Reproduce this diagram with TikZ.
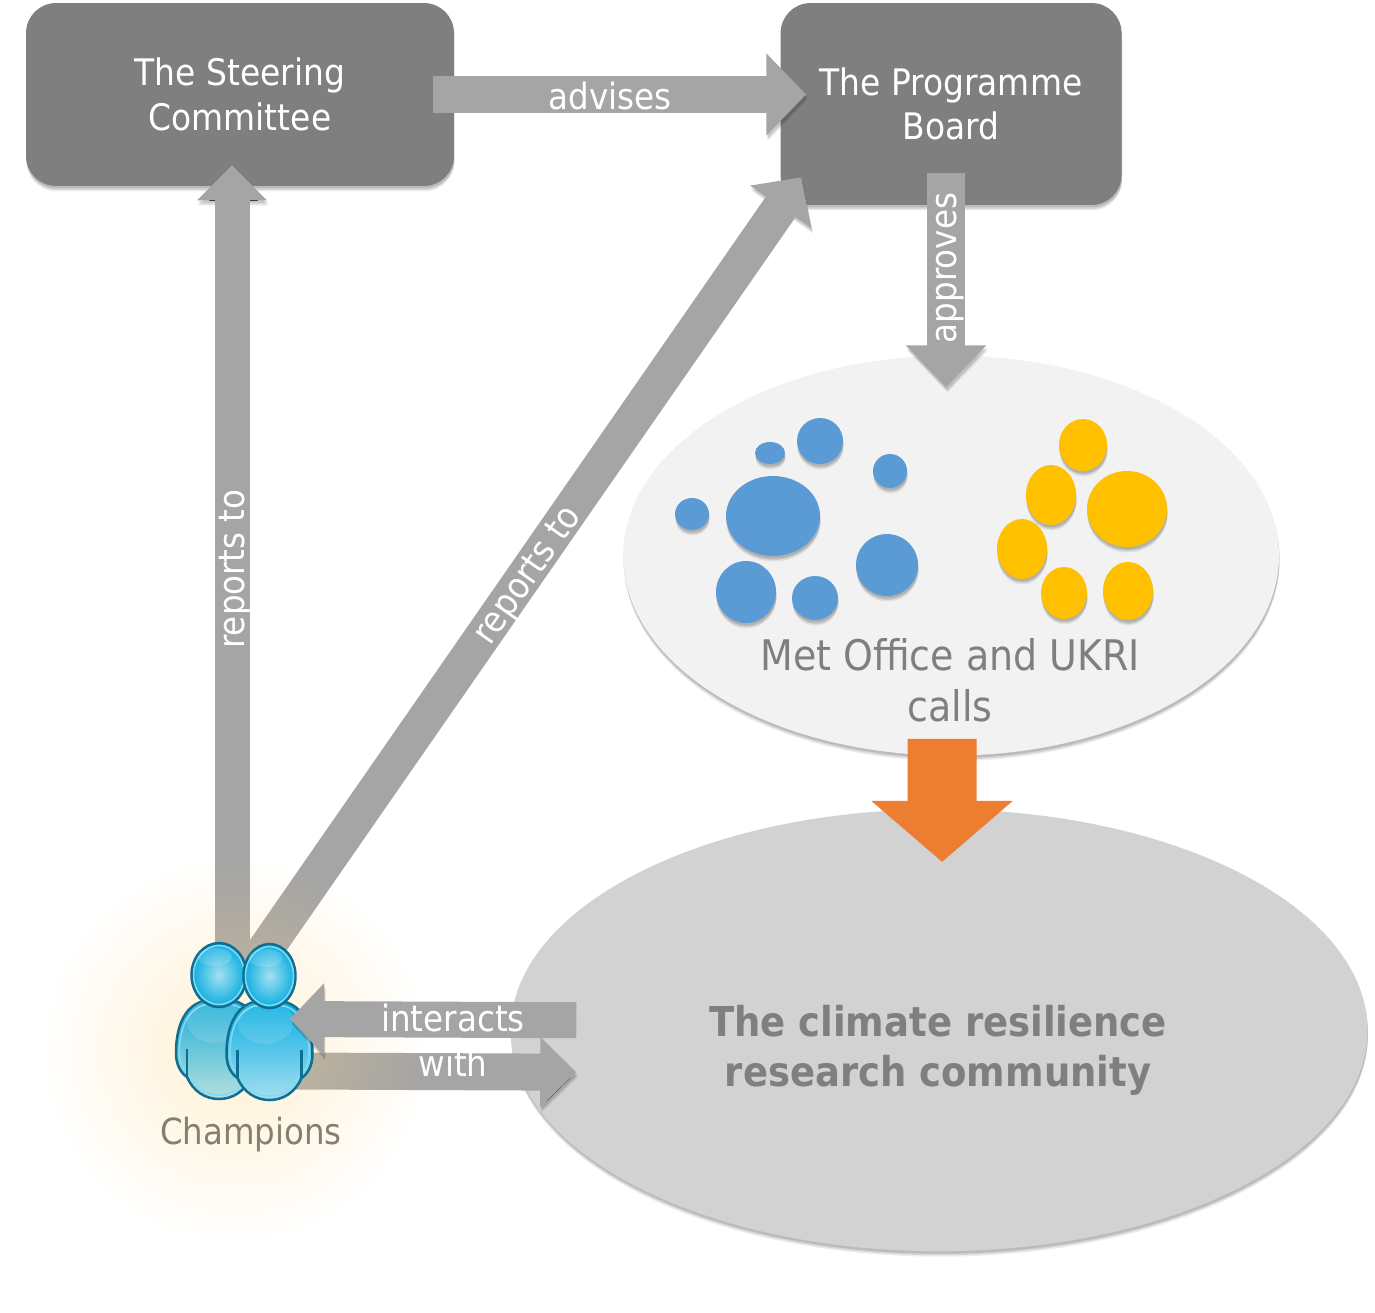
\documentclass[tikz,border=0pt]{standalone}
\usepackage{fontspec}
\usepackage{xcolor}
\setmainfont{DejaVu Sans Condensed}
\usetikzlibrary{shapes.geometric, arrows.meta, positioning, shadows, fadings}
\definecolor{boxgray}{HTML}{7F7F7F}
\definecolor{arrowgray}{HTML}{A5A5A5}
\definecolor{callsgray}{HTML}{F2F2F2}
\definecolor{commgray}{HTML}{D2D2D2}
\definecolor{textgray}{HTML}{7F7F7F}
\definecolor{champtext}{HTML}{857F6F}
\definecolor{blobblue}{HTML}{5B9BD5}
\definecolor{blobyellow}{HTML}{FFC000}
\definecolor{callorange}{HTML}{ED7D31}
\definecolor{glowcol}{HTML}{FFD98A}
\definecolor{persondark}{HTML}{0E6F92}
\definecolor{persontop}{HTML}{08AEE2}
\definecolor{personlow}{HTML}{A6DFF0}
\definecolor{persontopb}{HTML}{1FAFD8}
\definecolor{personlowb}{HTML}{B4E0DE}
\definecolor{personring}{HTML}{86D8F0}
\tikzfading[name=glowfade, inner color=transparent!62, outer color=transparent!100]
\tikzstyle{softshadow} = [drop shadow={shadow xshift=0.01cm, shadow yshift=-0.11cm, opacity=0.07, fill=black},
                          drop shadow={shadow xshift=0.01cm, shadow yshift=-0.08cm, opacity=0.1, fill=black},
                          drop shadow={shadow xshift=0.01cm, shadow yshift=-0.05cm, opacity=0.12, fill=black}]
\tikzstyle{govbox}    = [rectangle, rounded corners=0.6cm, fill=boxgray,
                         draw=none, text=white, align=center, softshadow,
                         font=\fontsize{20.8}{25.2}\selectfont]
\tikzstyle{arrowtext} = [text=white, font=\fontsize{20.6}{25}\selectfont, inner sep=0pt]
\tikzset{
  blockarrow/.style n args={3}{-{Triangle[length=#2cm, width=#3cm]}, line width=#1cm, draw=arrowgray,
    preaction={draw=black, draw opacity=0.1, transform canvas={xshift=0.03cm, yshift=-0.1cm}},
    preaction={draw=black, draw opacity=0.12, transform canvas={xshift=0.02cm, yshift=-0.06cm}}},
}
\def\bodypath{(-16,26) .. controls (-36,32) and (-43,54) .. (-43,78)
    .. controls (-43,90) and (-38,98) .. (-32,102)
    .. controls (-26,116) and (-14,124) .. (0,124)
    .. controls (14,124) and (26,116) .. (32,102)
    .. controls (38,98) and (43,90) .. (43,78)
    .. controls (43,54) and (36,32) .. (16,26) -- cycle}

\begin{document}
\begin{tikzpicture}[x=0.02cm, y=-0.02cm]
    \useasboundingbox (0,0) rectangle (1375,1312);

    \node (steering) [govbox, minimum width=8.56cm, minimum height=3.66cm] at (240,94.5) {The Steering\\Committee};
    \node (board) [govbox, minimum width=6.82cm, minimum height=4.04cm, right=6.52cm of steering, yshift=-0.19cm] {The Programme\\Board};
    \node (calls) [ellipse, fill=callsgray, softshadow, minimum width=13.12cm, minimum height=8cm, below=3cm of board] {};
    \node (community) [ellipse, fill=commgray, softshadow, minimum width=17.14cm, minimum height=8.84cm, below=1.06cm of calls, xshift=-0.24cm] {};

    % blobs inside the calls ellipse
    \foreach \bx/\by/\brx/\bry in {773/516/47/40, 820/441/23/23, 770/453/15/11, 890/471/17/17,
                                   692/514/17/16, 746/592/30/31, 815/598/23/22, 887/565/31/31}
        \fill[blobblue, softshadow] (\bx,\by) ellipse (\brx cm*0.02 and \bry cm*0.02);
    \foreach \bx/\by/\brx/\bry in {1083/445/24/26, 1051/495/25/30, 1127/509/40/38, 1022/549/25/30,
                                   1064/593/23/26, 1128/591/25/29}
        \fill[blobyellow, softshadow] (\bx,\by) ellipse (\brx cm*0.02 and \bry cm*0.02);

    \coordinate (icon) at (232,976);
    \coordinate (icondiag) at (258,960);
    \coordinate (iconin) at (290,1019);
    \coordinate (iconout) at (295,1071);

    \draw[blockarrow={0.76}{0.8}{1.6}] ([shift={(-21,0)}]steering.east) -- ([shift={(26,0)}]board.west |- steering.east);
    \draw[blockarrow={0.7}{0.7}{1.36}] (icon) -- ([shift={(0,-21)}]icon |- steering.south);
    \draw[blockarrow={0.72}{0.72}{1.45}] (icondiag) -- ([shift={(21,-28)}]board.south west);
    \draw[blockarrow={0.76}{0.84}{1.56}] ([shift={(-5,-32)}]board.south) -- ([shift={(-5,32)}]board.south |- calls.north);
    \draw[blockarrow={0.74}{0.72}{1.36}] (iconout) -- ([shift={(66,42)}]community.west);
    \draw[-{Triangle[length=1.22cm, width=2.76cm]}, line width=1.38cm, draw=callorange]
        ([shift={(-9,-17)}]calls.south) -- ([shift={(3,53)}]community.north);

    % glow behind the two people, lying over the arrows
    \fill[glowcol, path fading=glowfade] (235,1050) circle (195);

    % the two people
    \foreach \px/\py/\prx/\ptop/\plow in {219/975/27.5/persontopb/personlowb, 269.5/976/26/persontop/personlow}{
        \begin{scope}[shift={(\px,\py)}]
            \path[draw=persondark, line width=0.05cm, top color=\ptop, bottom color=\plow] \bodypath;
            \draw[personring, line width=0.03cm, shift={(0,6)}, scale=0.92] \bodypath;
            \fill[white, opacity=0.12] (-4,46) ellipse (28 and 22);
            \draw[persondark, line width=0.05cm] (-32,74) -- (-32,102) (32,74) -- (32,102);
            \path[draw=persondark, line width=0.05cm, inner color=personlow, outer color=persontop] (0,0) ellipse (\prx cm*0.02 and 32*0.02cm);
            \draw[personring, line width=0.03cm] (0,0) ellipse (\prx cm*0.0185 and 29.5*0.02cm);
            \fill[white, opacity=0.15] (-4,-18) ellipse (17 and 9);
        \end{scope}
    }

    % this one lies over the people
    \draw[blockarrow={0.72}{0.68}{1.4}] ([shift={(66,-10)}]community.west) -- (iconin);

    \node (champ) [text=champtext, font=\fontsize{20.5}{24}\selectfont, inner sep=0pt] at (251,1135) {Champions};
    \node (advlabel) [arrowtext] at (610,96) {advises};
    \node (steerlabel) [arrowtext, rotate=90] at (236,569) {reports to};
    \node (boardlabel) [arrowtext, rotate=55] at (529,576) {reports to};
    \node (approvelabel) [arrowtext, rotate=90] at (950,268) {approves};
    \node (interlabel) [arrowtext] at (453,1018) {interacts};
    \node (withlabel) [arrowtext] at (453,1063) {with};
    \node (callslabel) [text=textgray, align=center, font=\fontsize{24}{29}\selectfont, inner sep=0pt] at (950,680) {Met Office and UKRI\\calls};
    \node (commlabel) [text=textgray, align=center, font=\fontsize{23.4}{28.4}\selectfont\bfseries, inner sep=0pt] at (938,1050) {The climate resilience\\research community};
\end{tikzpicture}
\end{document}
